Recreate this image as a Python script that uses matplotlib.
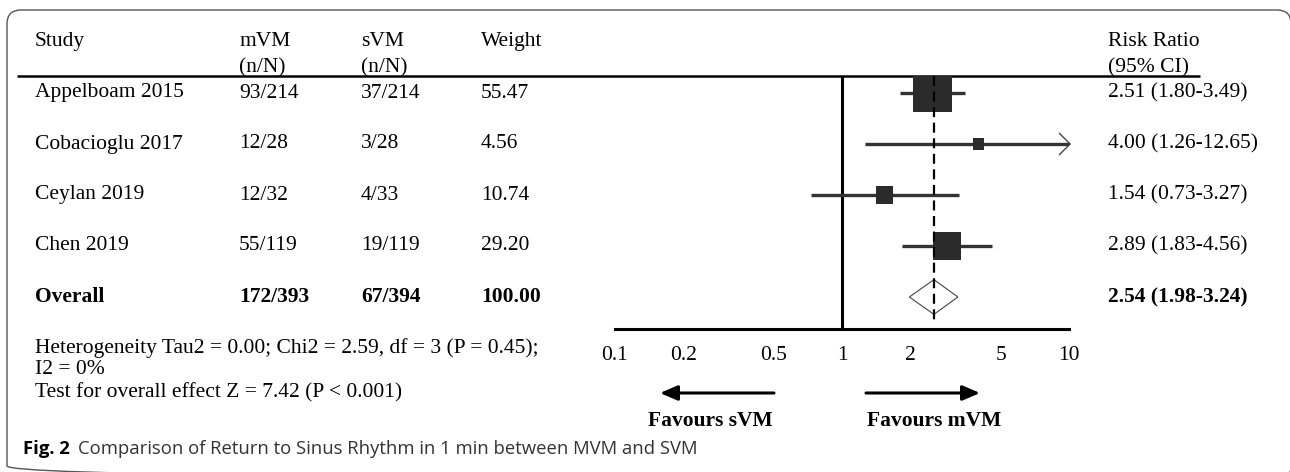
import matplotlib
matplotlib.use("Agg")
import matplotlib.pyplot as plt
from matplotlib.patches import FancyBboxPatch
from matplotlib.ticker import NullLocator

# Data
studies = ['Appelboam 2015', 'Cobacioglu 2017', 'Ceylan 2019', 'Chen 2019']
mvm = ['93/214', '12/28', '12/32', '55/119']
svm = ['37/214', '3/28', '4/33', '19/119']
weight = [55.47, 4.56, 10.74, 29.20]
rr = [2.51, 4.00, 1.54, 2.89]
ci_lo = [1.80, 1.26, 0.73, 1.83]
ci_hi = [3.49, 12.65, 3.27, 4.56]

overall_mvm = '172/393'
overall_svm = '67/394'
overall_weight = 100.00
overall_rr, overall_lo, overall_hi = 2.54, 1.98, 3.24

ticks = [0.1, 0.2, 0.5, 1, 2, 5, 10]
tick_labels = ['0.1', '0.2', '0.5', '1', '2', '5', '10']

het_lines = ['Heterogeneity Tau2 = 0.00; Chi2 = 2.59, df = 3 (P = 0.45);',
             'I2 = 0%',
             'Test for overall effect Z = 7.42 (P < 0.001)']

# Layout (pixels)
W, H = 1290, 472
row0, row_step = 93, 51
top_line, axis_y = 76, 329
x_study, x_mvm, x_svm, x_w, x_rr = 35, 239, 361, 481, 1108
fs = 15.5

plt.rcParams['font.family'] = 'Liberation Serif'
plt.rcParams['font.size'] = fs

fig = plt.figure(figsize=(W / 100, H / 100), dpi=100)
ax0 = fig.add_axes([0, 0, 1, 1])
ax0.set_xlim(0, W)
ax0.set_ylim(H, 0)
ax0.axis('off')

# border (right and bottom edges fall just outside the image)
ax0.add_patch(FancyBboxPatch((7, 10), 1284, 470, boxstyle='round,pad=0,rounding_size=14',
                             fill=False, ec='#555555', lw=1.0))

def row_px(i):
    return row0 + row_step * i

# headers
hy1, hy2 = 39, 65
hva = 'center_baseline'
ax0.text(x_study, hy1, 'Study', va=hva)
ax0.text(x_mvm, hy1, 'mVM', va=hva)
ax0.text(x_mvm, hy2, '(n/N)', va=hva)
ax0.text(x_svm, hy1, 'sVM', va=hva)
ax0.text(x_svm, hy2, '(n/N)', va=hva)
ax0.text(x_w, hy1, 'Weight', va=hva)
ax0.text(x_rr, hy1, 'Risk Ratio', va=hva)
ax0.text(x_rr, hy2, '(95% CI)', va=hva)
ax0.hlines(top_line, 17, 1200, color='k', lw=1.8)

for i in range(len(studies)):
    y = row_px(i)
    ax0.text(x_study, y, studies[i], va='center')
    ax0.text(x_mvm, y, mvm[i], va='center')
    ax0.text(x_svm, y, svm[i], va='center')
    ax0.text(x_w, y, f'{weight[i]:.2f}', va='center')
    ax0.text(x_rr, y, f'{rr[i]:.2f} ({ci_lo[i]:.2f}-{ci_hi[i]:.2f})', va='center')

y = row_px(4)
ax0.text(x_study, y, 'Overall', va='center', weight='bold')
ax0.text(x_mvm, y, overall_mvm, va='center', weight='bold')
ax0.text(x_svm, y, overall_svm, va='center', weight='bold')
ax0.text(x_w, y, f'{overall_weight:.2f}', va='center', weight='bold')
ax0.text(x_rr, y, f'{overall_rr:.2f} ({overall_lo:.2f}-{overall_hi:.2f})', va='center', weight='bold')

for line, ly in zip(het_lines, [348, 370, 393]):
    ax0.text(x_study, ly, line, va='center')

# forest axes
ax1 = fig.add_axes([615 / W, (H - axis_y) / H, 454 / W, (axis_y - top_line) / H])
ax1.set_xscale('log')
ax1.set_xlim(0.1, 10)
ax1.set_ylim((axis_y - row0) / row_step, (top_line - row0) / row_step)
ax1.patch.set_alpha(0)
for s in ['top', 'left', 'right']:
    ax1.spines[s].set_visible(False)
ax1.spines['bottom'].set_linewidth(2.2)
ax1.set_yticks([])
ax1.set_xticks(ticks)
ax1.set_xticklabels(tick_labels)
ax1.xaxis.set_minor_locator(NullLocator())
ax1.tick_params(axis='x', length=0, pad=12, labelsize=fs)

ax1.axvline(1, color='k', lw=2.2, zorder=2)
rows = list(range(len(studies)))
for i in rows:
    hi = min(ci_hi[i], 10)
    ax1.hlines(i, ci_lo[i], hi, color='#333333', lw=2.4, zorder=3)
    if ci_hi[i] > 10:
        ax1.annotate('', xy=(10.2, i), xytext=(9.0, i),
                     arrowprops=dict(arrowstyle='->,head_length=0.5,head_width=0.5',
                                     lw=0.9, color='#333333', shrinkA=0, shrinkB=0),
                     annotation_clip=False, zorder=3)
ax1.scatter(rr, rows, marker='s', s=[14.0 * w for w in weight], color='#2b2b2b',
            linewidths=0, zorder=4)
ax1.fill([overall_lo, overall_rr, overall_hi, overall_rr], [4, 4 - 0.34, 4, 4 + 0.34],
         facecolor='white', edgecolor='#444444', lw=0.8, zorder=4)
ax1.plot([overall_rr, overall_rr], [(top_line - row0) / row_step, 4.47], color='k', lw=1.6,
         dashes=(4.5, 2.5), zorder=5)

# arrows and labels
arrow_kw = dict(arrowstyle='-|>,head_length=0.7,head_width=0.3', lw=2.2, color='k',
                shrinkA=0, shrinkB=0, mutation_scale=15)
ax0.annotate('', xy=(660, 393), xytext=(774, 393), arrowprops=arrow_kw)
ax0.annotate('', xy=(980, 393), xytext=(866, 393), arrowprops=arrow_kw)
ax0.text(710, 421, 'Favours sVM', ha='center', va='center', weight='bold')
ax0.text(934, 421, 'Favours mVM', ha='center', va='center', weight='bold')

# caption
t1 = ax0.text(23, 449, 'Fig. 2', family='Open Sans', weight='bold', size=13.3, va='center')
ax0.annotate('Comparison of Return to Sinus Rhythm in 1 min between MVM and SVM',
             xy=(1, 0), xycoords=t1, xytext=(6, 0), textcoords='offset points',
             va='bottom', family='Open Sans', size=13.3, color='#333333')

fig.savefig('out.png', dpi=100)
